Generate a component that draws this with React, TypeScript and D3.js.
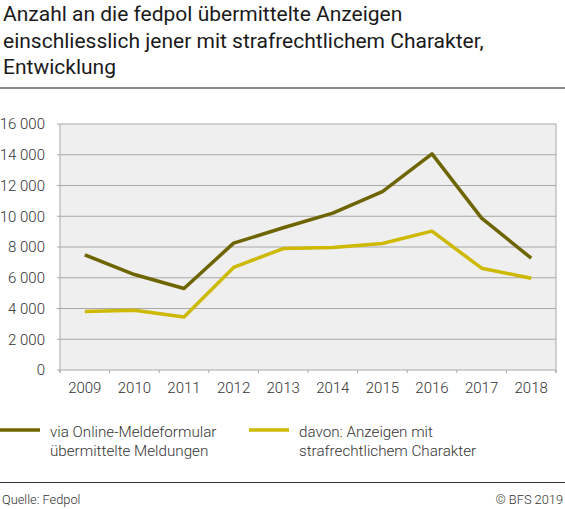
import React from "react";
import * as d3 from "d3";

const years = ["2009", "2010", "2011", "2012", "2013", "2014", "2015", "2016", "2017", "2018"];
const online = [7490, 6210, 5300, 8250, 9250, 10200, 11600, 14060, 9880, 7270];
const criminal = [3800, 3890, 3450, 6670, 7900, 7970, 8230, 9030, 6620, 5970];
const yTicks = [0, 2000, 4000, 6000, 8000, 10000, 12000, 14000, 16000];
const titleLines = [
  "Anzahl an die fedpol übermittelte Anzeigen",
  "einschliesslich jener mit strafrechtlichem Charakter,",
  "Entwicklung",
];
const legend1 = ["via Online-Meldeformular", "übermittelte Meldungen"];
const legend2 = ["davon: Anzeigen mit", "strafrechtlichem Charakter"];

const W = 565;
const H = 509;
const plot = { left: 60, right: 556, top: 124, bottom: 370 };
const DARK = "#6e6500";
const YELLOW = "#cdb900";
const GRID = "#a8a8a8";
const FONT = "Roboto, sans-serif";

export default function App() {
  const x = d3.scaleBand<string>().domain(years).range([plot.left, plot.right]);
  const y = d3.scaleLinear().domain([0, 16000]).range([plot.bottom, plot.top]);
  const line = d3
    .line<number>()
    .x((_, i) => (x(years[i]) as number) + x.bandwidth() / 2)
    .y((d) => y(d));
  const fmt = (v: number) => d3.format(",")(v).replace(/,/g, " ");
  const boundaries = years.map((yr) => x(yr) as number).concat([plot.right]);

  return (
    <svg width={W} height={H} style={{ position: "absolute", left: 0, top: 0 }} fontFamily={FONT}>
      {titleLines.map((t, i) => (
        <text key={t} x={3} y={21 + i * 26.5} fontSize={21} fill="#1a1a1a">
          {t}
        </text>
      ))}
      <line x1={0} x2={W} y1={88} y2={88} stroke="#666" strokeWidth={1.5} />

      <rect x={plot.left} y={plot.top} width={plot.right - plot.left} height={plot.bottom - plot.top} fill="#efefef" />
      {yTicks.map((t) => (
        <g key={t}>
          <line x1={plot.left - 3} x2={plot.right} y1={y(t)} y2={y(t)} stroke={GRID} strokeWidth={1} />
          <text x={45} y={y(t) + 5.3} textAnchor="end" fontSize={15} fontWeight={300} fill="#333">
            {fmt(t)}
          </text>
        </g>
      ))}
      <line x1={plot.left} x2={plot.left} y1={plot.top} y2={plot.bottom + 3} stroke={GRID} />
      <line x1={plot.right} x2={plot.right} y1={plot.top} y2={plot.bottom + 3} stroke={GRID} />
      {boundaries.map((b, i) => (
        <line key={i} x1={b} x2={b} y1={plot.bottom} y2={plot.bottom + 3} stroke={GRID} />
      ))}
      {years.map((yr) => (
        <text
          key={yr}
          x={(x(yr) as number) + x.bandwidth() / 2}
          y={393}
          textAnchor="middle"
          fontSize={15}
          fontWeight={300}
          fill="#333"
        >
          {yr}
        </text>
      ))}

      <path d={line(criminal) || ""} fill="none" stroke={YELLOW} strokeWidth={3.5} strokeLinejoin="round" />
      <path d={line(online) || ""} fill="none" stroke={DARK} strokeWidth={3.5} strokeLinejoin="round" />

      <line x1={0} x2={40} y1={430} y2={430} stroke={DARK} strokeWidth={3.5} />
      {legend1.map((t, i) => (
        <text key={t} x={50} y={437 + i * 19} fontSize={15.2} fontWeight={300} fill="#333">
          {t}
        </text>
      ))}
      <line x1={249} x2={289} y1={430} y2={430} stroke={YELLOW} strokeWidth={3.5} />
      {legend2.map((t, i) => (
        <text key={t} x={299} y={437 + i * 19} fontSize={15.2} fontWeight={300} fill="#333">
          {t}
        </text>
      ))}

      <line x1={0} x2={W} y1={482.5} y2={482.5} stroke="#333" strokeWidth={1} />
      <text x={2} y={504} fontSize={12.8} fontWeight={300} fill="#333">
        Quelle: Fedpol
      </text>
      <text x={563} y={504} textAnchor="end" fontSize={12.8} fontWeight={300} fill="#333">
        © BFS 2019
      </text>
    </svg>
  );
}
